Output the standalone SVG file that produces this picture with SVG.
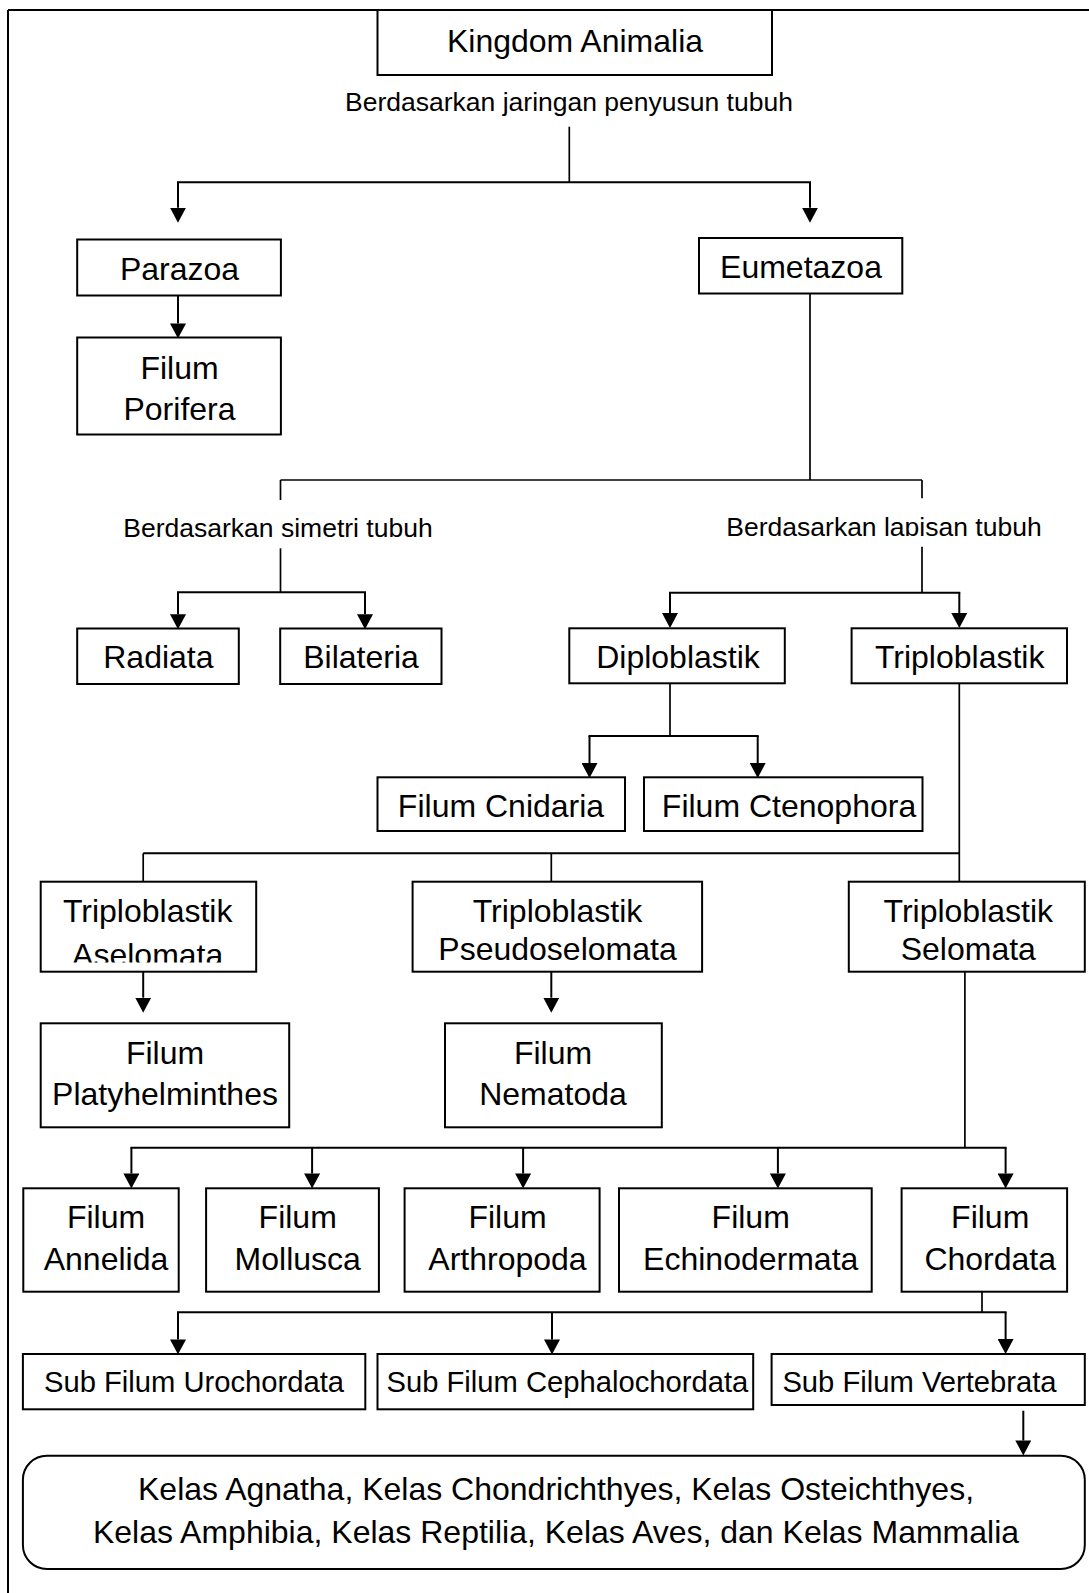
<svg xmlns="http://www.w3.org/2000/svg" width="1089" height="1593" viewBox="0 0 1089 1593">
<style>
.box{fill:#fff;stroke:#000;stroke-width:2}
.t{font-family:"Liberation Sans",Arial,sans-serif;font-size:32px;fill:#000;text-anchor:middle}
.s{font-family:"Liberation Sans",Arial,sans-serif;font-size:29.2px;fill:#000;text-anchor:middle}
.lb{font-family:"Liberation Sans",Arial,sans-serif;font-size:26.5px;fill:#000;text-anchor:middle}
.ln{fill:none;stroke:#000;stroke-width:2}
.thin{fill:none;stroke:#000;stroke-width:1.7}
.ar{fill:none;stroke:#000;stroke-width:2;marker-end:url(#ah)}
</style>
<defs>
<marker id="ah" markerUnits="userSpaceOnUse" markerWidth="15" markerHeight="16" viewBox="0 0 14 15" refX="0" refY="7.5" orient="auto">
<path d="M0,0 L14,7.5 L0,15 z" fill="#000"/>
</marker>
<clipPath id="clipLap"><rect x="600" y="500" width="480" height="36"/></clipPath>
<clipPath id="clipAse"><rect x="42" y="883" width="212" height="79.5"/></clipPath>
</defs>
<rect width="1089" height="1593" fill="#fff"/>
<g id="frame">
<line class="ln" x1="8" y1="10" x2="1089" y2="10"/>
<line class="ln" x1="8" y1="10" x2="8" y2="1593"/>
</g>
<g id="connectors">
<line class="thin" x1="569.3" y1="126.7" x2="569.3" y2="182.3"/>
<line class="ln" x1="177" y1="182.3" x2="811" y2="182.3"/>
<line class="ar" x1="178" y1="182.3" x2="178" y2="207.7"/>
<line class="ar" x1="810" y1="182.3" x2="810" y2="207.7"/>
<line class="ar" x1="178" y1="295.3" x2="178" y2="323.5"/>
<line class="thin" x1="810" y1="293.5" x2="810" y2="480"/>
<line class="thin" x1="280.5" y1="480" x2="922" y2="480"/>
<line class="thin" x1="280.5" y1="480" x2="280.5" y2="500"/>
<line class="thin" x1="922" y1="480" x2="922" y2="498.3"/>
<line class="thin" x1="280.5" y1="548.3" x2="280.5" y2="592.3"/>
<line class="ln" x1="177" y1="592.3" x2="366" y2="592.3"/>
<line class="ar" x1="178" y1="592.3" x2="178" y2="614.3"/>
<line class="ar" x1="365" y1="592.3" x2="365" y2="614.3"/>
<line class="thin" x1="922" y1="546.7" x2="922" y2="592.7"/>
<line class="ln" x1="669" y1="592.7" x2="960.3" y2="592.7"/>
<line class="ar" x1="670" y1="592.7" x2="670" y2="613"/>
<line class="ar" x1="959.3" y1="592.7" x2="959.3" y2="613"/>
<line class="thin" x1="670" y1="683.3" x2="670" y2="736"/>
<line class="ln" x1="588.5" y1="736" x2="758.7" y2="736"/>
<line class="ar" x1="589.5" y1="736" x2="589.5" y2="763"/>
<line class="ar" x1="757.7" y1="736" x2="757.7" y2="763"/>
<line class="thin" x1="959.3" y1="683.3" x2="959.3" y2="881.7"/>
<line class="ln" x1="143.2" y1="853.3" x2="959.3" y2="853.3"/>
<line class="thin" x1="143.2" y1="853.3" x2="143.2" y2="881.7"/>
<line class="thin" x1="551.3" y1="853.3" x2="551.3" y2="881.7"/>
<line class="ar" x1="143.2" y1="971.7" x2="143.2" y2="997.7"/>
<line class="ar" x1="551.3" y1="971.7" x2="551.3" y2="997.7"/>
<line class="thin" x1="964.9" y1="971.7" x2="964.9" y2="1147.7"/>
<line class="ln" x1="130.4" y1="1147.7" x2="1006.6" y2="1147.7"/>
<line class="ar" x1="131.4" y1="1147.7" x2="131.4" y2="1173.5"/>
<line class="ar" x1="312.1" y1="1147.7" x2="312.1" y2="1173.5"/>
<line class="ar" x1="523.1" y1="1147.7" x2="523.1" y2="1173.5"/>
<line class="ar" x1="777.9" y1="1147.7" x2="777.9" y2="1173.5"/>
<line class="ar" x1="1005.6" y1="1147.7" x2="1005.6" y2="1173.5"/>
<line class="thin" x1="982" y1="1291.7" x2="982" y2="1312.3"/>
<line class="ln" x1="177" y1="1312.3" x2="1006.6" y2="1312.3"/>
<line class="ar" x1="178" y1="1312.3" x2="178" y2="1339.5"/>
<line class="ar" x1="552" y1="1312.3" x2="552" y2="1339.5"/>
<line class="ar" x1="1005.6" y1="1312.3" x2="1005.6" y2="1339"/>
<line class="ar" x1="1023.3" y1="1410.7" x2="1023.3" y2="1440.5"/>
</g>
<g id="kingdom">
<rect class="box" x="377.5" y="10" width="394.5" height="65"/>
<text class="t" x="575" y="52">Kingdom Animalia</text>
</g>
<g id="label-jaringan"><text class="lb" x="569" y="111">Berdasarkan jaringan penyusun tubuh</text></g>
<g id="parazoa">
<rect class="box" x="77.2" y="239.5" width="203.7" height="56"/>
<text class="t" x="179.5" y="279.5">Parazoa</text>
</g>
<g id="eumetazoa">
<rect class="box" x="699" y="238" width="203.3" height="55.5"/>
<text class="t" x="801" y="277.5">Eumetazoa</text>
</g>
<g id="porifera">
<rect class="box" x="77.2" y="337.5" width="203.7" height="97"/>
<text class="t" x="179.5" y="378.5">Filum</text>
<text class="t" x="179.5" y="419.5">Porifera</text>
</g>
<g id="label-simetri"><text class="lb" x="278" y="536.5">Berdasarkan simetri tubuh</text></g>
<g id="label-lapisan"><text class="lb" x="884" y="535.5" clip-path="url(#clipLap)">Berdasarkan lapisan tubuh</text></g>
<g id="radiata">
<rect class="box" x="77.2" y="628.5" width="161.6" height="55.5"/>
<text class="t" x="158.4" y="667.7">Radiata</text>
</g>
<g id="bilateria">
<rect class="box" x="280.2" y="628.5" width="161.3" height="55.5"/>
<text class="t" x="361" y="667.7">Bilateria</text>
</g>
<g id="diploblastik">
<rect class="box" x="569.3" y="628.3" width="215.5" height="55"/>
<text class="t" x="678" y="667.7">Diploblastik</text>
</g>
<g id="triploblastik">
<rect class="box" x="851.6" y="628.3" width="215.4" height="55"/>
<text class="t" x="959.7" y="667.7">Triploblastik</text>
</g>
<g id="cnidaria">
<rect class="box" x="377.5" y="777.3" width="247.5" height="53.7"/>
<text class="t" x="501" y="816.7">Filum Cnidaria</text>
</g>
<g id="ctenophora">
<rect class="box" x="644" y="777.3" width="278.5" height="53.7"/>
<text class="t" x="789" y="816.7">Filum Ctenophora</text>
</g>
<g id="aselomata">
<rect class="box" x="40.7" y="881.7" width="215.5" height="90"/>
<text class="t" x="147.7" y="921.7">Triploblastik</text>
<text class="t" x="147.7" y="965.5" clip-path="url(#clipAse)">Aselomata</text>
</g>
<g id="pseudoselomata">
<rect class="box" x="412.6" y="881.7" width="289.5" height="90"/>
<text class="t" x="557.5" y="921.7">Triploblastik</text>
<text class="t" x="557.5" y="959.5">Pseudoselomata</text>
</g>
<g id="selomata">
<rect class="box" x="848.8" y="881.7" width="236" height="90"/>
<text class="t" x="968.3" y="921.7">Triploblastik</text>
<text class="t" x="968.3" y="959.5">Selomata</text>
</g>
<g id="platyhelminthes">
<rect class="box" x="40.7" y="1023.3" width="248.5" height="104"/>
<text class="t" x="165" y="1064">Filum</text>
<text class="t" x="165" y="1105">Platyhelminthes</text>
</g>
<g id="nematoda">
<rect class="box" x="445" y="1023.3" width="216.8" height="104"/>
<text class="t" x="553" y="1064">Filum</text>
<text class="t" x="553" y="1105">Nematoda</text>
</g>
<g id="annelida">
<rect class="box" x="23.3" y="1188.3" width="155.4" height="103.4"/>
<text class="t" x="106" y="1228.3">Filum</text>
<text class="t" x="106" y="1270">Annelida</text>
</g>
<g id="mollusca">
<rect class="box" x="206.1" y="1188.3" width="172.8" height="103.4"/>
<text class="t" x="297.7" y="1228.3">Filum</text>
<text class="t" x="297.7" y="1270">Mollusca</text>
</g>
<g id="arthropoda">
<rect class="box" x="404.6" y="1188.3" width="195" height="103.4"/>
<text class="t" x="507.5" y="1228.3">Filum</text>
<text class="t" x="507.5" y="1270">Arthropoda</text>
</g>
<g id="echinodermata">
<rect class="box" x="619" y="1188.3" width="252.7" height="103.4"/>
<text class="t" x="750.7" y="1228.3">Filum</text>
<text class="t" x="750.7" y="1270">Echinodermata</text>
</g>
<g id="chordata">
<rect class="box" x="901.6" y="1188.3" width="165.5" height="103.4"/>
<text class="t" x="990.2" y="1228.3">Filum</text>
<text class="t" x="990.2" y="1270">Chordata</text>
</g>
<g id="urochordata">
<rect class="box" x="22.9" y="1354" width="342.4" height="55.3"/>
<text class="s" x="194" y="1391.7">Sub Filum Urochordata</text>
</g>
<g id="cephalochordata">
<rect class="box" x="377.5" y="1354" width="375.7" height="55.3"/>
<text class="s" x="567.4" y="1391.7">Sub Filum Cephalochordata</text>
</g>
<g id="vertebrata">
<rect class="box" x="771.6" y="1354" width="313.2" height="51"/>
<text class="s" x="919.5" y="1391.7">Sub Filum Vertebrata</text>
</g>
<g id="kelas">
<rect class="box" x="22.9" y="1455.7" width="1061.9" height="113.3" rx="24" ry="24"/>
<text class="t" x="556" y="1500">Kelas Agnatha, Kelas Chondrichthyes, Kelas Osteichthyes,</text>
<text class="t" x="556" y="1542.7">Kelas Amphibia, Kelas Reptilia, Kelas Aves, dan Kelas Mammalia</text>
</g>
</svg>
